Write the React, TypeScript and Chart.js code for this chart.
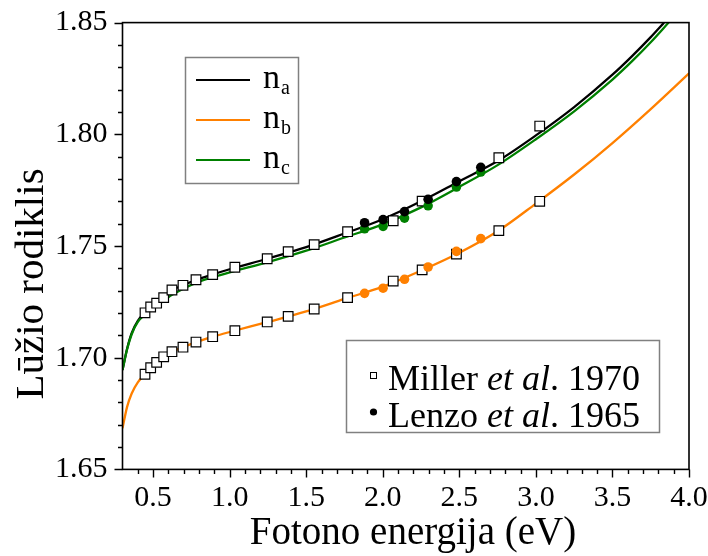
import React, { useEffect, useRef } from "react";
import { Chart, registerables } from "chart.js";

Chart.register(...registerables);

// ---- data ----
const xTicks = [0.5, 1.0, 1.5, 2.0, 2.5, 3.0, 3.5, 4.0];
const yTicks = [1.65, 1.7, 1.75, 1.8, 1.85];

// fitted dispersion curves
const curveNaE = [0.30, 0.33, 0.36, 0.40, 0.45, 0.50, 0.57, 0.62, 0.70, 0.78, 0.89, 1.00, 1.25, 1.50, 1.75, 2.00, 2.25, 2.50, 2.75, 3.00, 3.25, 3.50, 3.625, 3.75, 3.837];
const curveNa = [1.6945, 1.7040, 1.7110, 1.7165, 1.7203, 1.7233, 1.7268, 1.7300, 1.7326, 1.7348, 1.7373, 1.7396, 1.7444, 1.7495, 1.7556, 1.7620, 1.7700, 1.7790, 1.7880, 1.7995, 1.8122, 1.8267, 1.8348, 1.8435, 1.8500];

const curveNcE = [0.30, 0.33, 0.36, 0.40, 0.45, 0.50, 0.57, 0.62, 0.70, 0.78, 0.89, 1.00, 1.25, 1.50, 1.75, 2.00, 2.25, 2.50, 2.75, 3.00, 3.25, 3.50, 3.625, 3.75, 3.867];
const curveNc = [1.6945, 1.7038, 1.7105, 1.7160, 1.7195, 1.7222, 1.7255, 1.7280, 1.7310, 1.7335, 1.7360, 1.7382, 1.7428, 1.7479, 1.7538, 1.7597, 1.7673, 1.7765, 1.7862, 1.7978, 1.8103, 1.8245, 1.8325, 1.8412, 1.8500];

const curveNbE = [0.30, 0.33, 0.36, 0.40, 0.45, 0.50, 0.57, 0.62, 0.70, 0.78, 0.89, 1.00, 1.25, 1.50, 1.75, 2.00, 2.25, 2.50, 2.75, 3.00, 3.25, 3.50, 3.75, 4.00];
const curveNb = [1.6684, 1.6780, 1.6840, 1.6890, 1.6928, 1.6962, 1.7000, 1.7025, 1.7048, 1.7070, 1.7094, 1.7115, 1.7160, 1.7207, 1.7263, 1.7318, 1.7390, 1.7470, 1.7566, 1.7690, 1.7820, 1.7961, 1.8113, 1.8273];

// Miller et al. 1970 (open squares)
const millerE = [0.447, 0.484, 0.523, 0.569, 0.623, 0.695, 0.780, 0.889, 1.034, 1.245, 1.382, 1.552, 1.770, 2.068, 2.257, 2.481, 2.758, 3.025];
const millerNa = [1.7201, 1.7227, 1.7244, 1.7269, 1.7303, 1.7324, 1.7349, 1.7372, 1.7405, 1.7443, 1.7475, 1.7506, 1.7564, 1.7613, 1.7701, null, 1.7895, 1.8037];
const millerNb = [1.6926, 1.6955, 1.6979, 1.7004, 1.7027, 1.7047, 1.7070, 1.7094, 1.7121, 1.7160, 1.7185, 1.7218, 1.7269, 1.7343, 1.7393, 1.7464, 1.7569, 1.7700];

// Lenzo et al. 1965 (filled circles)
const lenzoE = [1.881, 2.002, 2.142, 2.296, 2.481, 2.640];
const lenzoNa = [1.7604, 1.7618, 1.7654, 1.7709, 1.7788, 1.7852];
const lenzoNb = [1.7288, 1.7311, 1.7351, 1.7406, 1.7476, 1.7533];
const lenzoNc = [1.7577, 1.7588, 1.7625, 1.7680, 1.7764, 1.7831];

const seriesLabels = ["n", "n", "n"];
const seriesSubs = ["a", "b", "c"];
const sourceLabels = ["Miller", "Lenzo"];
const sourceYears = ["1970", "1965"];
const xTitle = "Fotono energija (eV)";
const yTitle = "Lūžio rodiklis";

// ---- styles ----
const FONT = '"Liberation Serif", "Times New Roman", serif';
const BLACK = "#000000";
const ORANGE = "#ff8000";
const GREEN = "#008000";

const pts = (xs: number[], ys: (number | null)[]) =>
  xs.map((x, i) => ({ x, y: ys[i] })).filter((p) => p.y !== null);

const decor = {
  id: "decor",
  afterDraw(chart: any) {
    const { ctx, chartArea: a, scales } = chart;
    const x = scales.x;
    const y = scales.y;
    ctx.save();
    ctx.strokeStyle = "#000";
    ctx.lineWidth = 1.6;
    ctx.strokeRect(a.left, a.top, a.right - a.left, a.bottom - a.top);
    ctx.lineWidth = 1.4;
    ctx.beginPath();
    for (let i = 4; i <= 40; i++) {
      const px = Math.round(x.getPixelForValue(i / 10)) + 0.5;
      const len = i % 5 === 0 ? 8 : 4.5;
      ctx.moveTo(px, a.bottom);
      ctx.lineTo(px, a.bottom + len);
    }
    for (let i = 165; i <= 185; i++) {
      const py = Math.round(y.getPixelForValue(i / 100)) + 0.5;
      const len = i % 5 === 0 ? 8 : 4.5;
      ctx.moveTo(a.left, py);
      ctx.lineTo(a.left - len, py);
    }
    ctx.stroke();

    // axis titles
    ctx.fillStyle = "#000";
    ctx.font = `39px ${FONT}`;
    ctx.textAlign = "center";
    ctx.textBaseline = "alphabetic";
    ctx.fillText(xTitle, 413, 544);
    ctx.save();
    ctx.translate(43, 284);
    ctx.rotate(-Math.PI / 2);
    ctx.font = `41px ${FONT}`;
    ctx.fillText(yTitle, 0, 0);
    ctx.restore();

    // legend 1 (curves)
    ctx.textAlign = "left";
    ctx.strokeStyle = "#808080";
    ctx.lineWidth = 1.5;
    ctx.strokeRect(185.5, 57.5, 113, 126);
    const cols = [BLACK, ORANGE, GREEN];
    for (let i = 0; i < 3; i++) {
      const ly = 80 + i * 40;
      ctx.strokeStyle = cols[i];
      ctx.lineWidth = 2;
      ctx.beginPath();
      ctx.moveTo(196, ly);
      ctx.lineTo(250, ly);
      ctx.stroke();
      ctx.fillStyle = "#000";
      ctx.font = `34px ${FONT}`;
      ctx.fillText(seriesLabels[i], 263, ly + 7.5);
      const w = ctx.measureText(seriesLabels[i]).width;
      ctx.font = `20px ${FONT}`;
      ctx.fillText(seriesSubs[i], 263 + w + 1, ly + 13.5);
    }

    // legend 2 (sources)
    ctx.strokeStyle = "#808080";
    ctx.lineWidth = 1.5;
    ctx.strokeRect(346.5, 340.5, 313, 92);
    for (let i = 0; i < 2; i++) {
      const base = 390 + i * 37;
      let tx = 388;
      ctx.fillStyle = "#000";
      ctx.font = `36px ${FONT}`;
      ctx.fillText(sourceLabels[i] + " ", tx, base);
      tx += ctx.measureText(sourceLabels[i] + " ").width;
      ctx.font = `italic 36px ${FONT}`;
      ctx.fillText("et al", tx, base);
      tx += ctx.measureText("et al").width;
      ctx.font = `36px ${FONT}`;
      ctx.fillText(". " + sourceYears[i], tx, base);
      const my = base - 15;
      if (i === 0) {
        ctx.fillStyle = "#fff";
        ctx.fillRect(370, my - 3, 6.5, 6.5);
        ctx.strokeStyle = "#000";
        ctx.lineWidth = 1;
        ctx.strokeRect(370.5, my - 2.5, 6, 6);
      } else {
        ctx.fillStyle = "#000";
        ctx.beginPath();
        ctx.arc(373.5, my, 3.6, 0, Math.PI * 2);
        ctx.fill();
      }
    }
    ctx.restore();
  },
};

export default function App() {
  const ref = useRef<HTMLCanvasElement | null>(null);
  useEffect(() => {
    document.body.style.margin = "0";
    const canvas = ref.current;
    if (!canvas) return;
    const lineDs = (label: string, xs: number[], ys: number[], color: string, order: number) => ({
      label,
      data: pts(xs, ys),
      showLine: true,
      borderColor: color,
      backgroundColor: color,
      borderWidth: 2.3,
      pointRadius: 0,
      cubicInterpolationMode: "monotone",
      order,
    });
    const sq = (label: string, ys: (number | null)[]) => ({
      label,
      data: pts(millerE, ys),
      showLine: false,
      pointStyle: "rect",
      pointRadius: 6.8,
      pointBorderWidth: 1.2,
      pointBackgroundColor: "#ffffff",
      pointBorderColor: "#000000",
      order: 1,
    });
    const dot = (label: string, ys: number[], color: string) => ({
      label,
      data: pts(lenzoE, ys),
      showLine: false,
      pointStyle: "circle",
      pointRadius: 4.8,
      pointBorderWidth: 0,
      pointBackgroundColor: color,
      pointBorderColor: color,
      order: 0,
    });
    const chart = new Chart(canvas, {
      type: "scatter",
      data: {
        datasets: [
          lineDs("na", curveNaE, curveNa, BLACK, 4),
          lineDs("nb", curveNbE, curveNb, ORANGE, 3),
          lineDs("nc", curveNcE, curveNc, GREEN, 2),
          sq("Miller na", millerNa),
          sq("Miller nb", millerNb),
          dot("Lenzo na", lenzoNa, BLACK),
          dot("Lenzo nb", lenzoNb, ORANGE),
          dot("Lenzo nc", lenzoNc, GREEN),
        ] as any,
      },
      options: {
        responsive: false,
        animation: false,
        devicePixelRatio: 1,
        layout: { padding: { top: 22.6, right: 19, left: 0, bottom: 0 } },
        plugins: { legend: { display: false }, tooltip: { enabled: false } },
        scales: {
          x: {
            type: "linear",
            min: 0.3,
            max: 4.0,
            grid: { display: false, drawTicks: false },
            border: { display: false },
            afterBuildTicks: (s: any) => {
              s.ticks = xTicks.map((v) => ({ value: v }));
            },
            afterFit: (s: any) => {
              s.height = 86.6;
              s.paddingLeft = 0;
              s.paddingRight = 0;
            },
            ticks: {
              autoSkip: false,
              maxRotation: 0,
              padding: 11,
              color: "#000",
              font: { family: FONT, size: 30 },
              callback: (v: any) => Number(v).toFixed(1),
            },
          },
          y: {
            type: "linear",
            min: 1.65,
            max: 1.85,
            grid: { display: false, drawTicks: false },
            border: { display: false },
            afterBuildTicks: (s: any) => {
              s.ticks = yTicks.map((v) => ({ value: v }));
            },
            afterFit: (s: any) => {
              s.width = 122.5;
              s.paddingTop = 0;
              s.paddingBottom = 0;
            },
            ticks: {
              autoSkip: false,
              padding: 15,
              color: "#000",
              font: { family: FONT, size: 30 },
              callback: (v: any) => Number(v).toFixed(2),
            },
          },
        },
      } as any,
      plugins: [decor],
    });
    return () => chart.destroy();
  }, []);
  return (
    <div style={{ width: 708, height: 556, background: "#fff" }}>
      <canvas ref={ref} width={708} height={556} />
    </div>
  );
}
